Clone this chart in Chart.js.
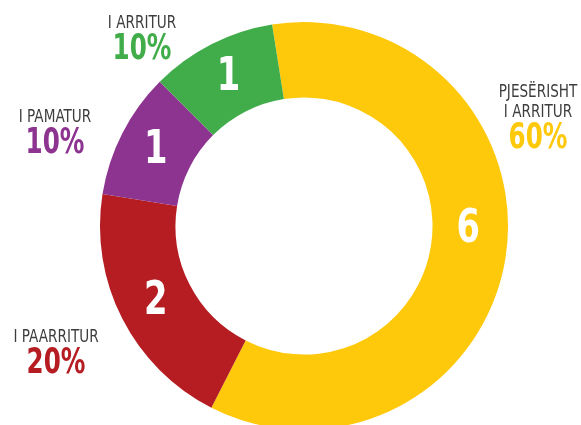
<!DOCTYPE html>
<html>
<head>
<meta charset="utf-8">
<script src="https://cdn.jsdelivr.net/npm/chart.js@4/dist/chart.umd.min.js"></script>
<style>
  html, body { margin: 0; padding: 0; background: #fff; overflow: hidden; }
  #wrap { width: 581px; height: 440px; }
</style>
</head>
<body>
<div id="wrap"><canvas id="chart" width="581" height="440"></canvas></div>
<script>
// data
const categories = ["PJESËRISHT I ARRITUR", "I PAARRITUR", "I PAMATUR", "I ARRITUR"];
const counts = [6, 2, 1, 1];
const percents = ["60%", "20%", "10%", "10%"];
const colors = ['#FEC80B', '#B51D22', '#8C348F', '#41AD4A'];

// outside caption lines + where they sit (text only)
const captionLines = [["PJESËRISHT", "I ARRITUR"], ["I PAARRITUR"], ["I PAMATUR"], ["I ARRITUR"]];
const captionAt = [[538, 97], [56, 342], [55, 122], [142, 28]];
const numberNudge = [-22, 0, 0, 0];

const FONT = '"Liberation Sans Narrow", "DejaVu Sans Condensed", "Roboto", sans-serif';

const labelsPlugin = {
    id: 'ringLabels',
    afterDatasetsDraw(chart) {
        const c = chart.ctx;
        const arcs = chart.getDatasetMeta(0).data;
        c.save();
        c.textAlign = 'center';
        arcs.forEach((arc, i) => {
            // number inside the segment
            const p = arc.tooltipPosition();
            c.save();
            c.translate(p.x, p.y + numberNudge[i]);
            c.scale(0.8, 1);
            c.fillStyle = '#fff';
            c.font = 'bold 47px ' + FONT;
            c.textBaseline = 'middle';
            c.fillText(String(counts[i]), 0, 0);
            c.restore();

            // caption outside
            const [x, y] = captionAt[i];
            c.textBaseline = 'alphabetic';
            captionLines[i].forEach((line, j) => {
                c.save();
                c.translate(x, y + j * 20);
                c.scale(0.84, 1);
                c.fillStyle = '#3d3d3d';
                c.font = '18px ' + FONT;
                c.fillText(line, 0, 0);
                c.restore();
            });
            c.save();
            c.translate(x, y + (captionLines[i].length - 1) * 20 + 31);
            c.scale(0.76, 1);
            c.fillStyle = colors[i];
            c.font = 'bold 36px ' + FONT;
            c.fillText(percents[i], 0, 0);
            c.restore();
        });
        c.restore();
    }
};

const ctx = document.querySelector('#chart').getContext('2d');
const chart = new Chart(ctx, {
    type: 'doughnut',
    data: {
        labels: categories,
        datasets: [{
            data: counts,
            backgroundColor: colors,
            borderWidth: 0,
        }]
    },
    options: {
        responsive: false,
        animation: false,
        rotation: -9,
        cutout: '63%',
        layout: {
            padding: { left: 100, right: 73, top: 22, bottom: 10 }
        },
        plugins: {
            legend: { display: false },
            tooltip: { enabled: false }
        }
    },
    plugins: [labelsPlugin]
});
</script>
</body>
</html>
